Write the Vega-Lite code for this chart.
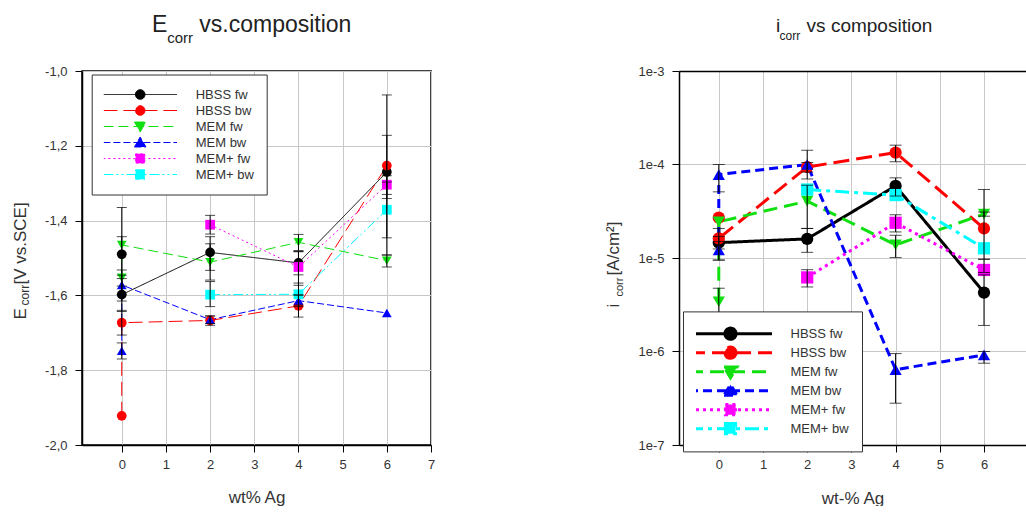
{
  "$schema": "https://vega.github.io/schema/vega-lite/v6.json",
  "background": "white",
  "padding": {"left": 10, "top": 13, "right": 0, "bottom": 0},
  "spacing": 248,
  "bounds": "flush",
  "config": {
    "font": "Liberation Sans",
    "view": {"stroke": "#000", "strokeWidth": 1.5},
    "axis": {"domainColor": "#000", "domainWidth": 1.5, "tickColor": "#000", "tickSize": 7, "tickWidth": 1, "gridColor": "#c8c8c8", "gridWidth": 1, "labelColor": "#333", "labelFontSize": 13, "labelPadding": 8, "titleColor": "#333", "titleFontWeight": "normal", "labelFlush": false, "labelOverlap": false},
    "title": {"fontWeight": "normal", "color": "#222", "frame": "group", "anchor": "start"},
    "legend": {"labelColor": "#333", "labelFontSize": 13, "strokeColor": "#333", "fillColor": "#fff"}
  },
  "datasets": {
    "E": [
      {"s": "HBSS fw", "x": 0, "y": -1.49, "lo": -1.615, "hi": -1.365, "o": 1},
      {"s": "HBSS fw", "x": 0, "y": -1.598, "lo": -1.643, "hi": -1.555, "o": 2},
      {"s": "HBSS fw", "x": 2, "y": -1.485, "lo": -1.533, "hi": -1.443, "o": 3},
      {"s": "HBSS fw", "x": 4, "y": -1.513, "lo": -1.545, "hi": -1.483, "o": 4},
      {"s": "HBSS fw", "x": 6, "y": -1.27, "lo": -1.492, "hi": -1.064, "o": 5},
      {"s": "HBSS bw", "x": 0, "y": -1.922, "lo": null, "hi": null, "o": 1},
      {"s": "HBSS bw", "x": 0, "y": -1.673, "lo": -1.706, "hi": -1.64, "o": 2},
      {"s": "HBSS bw", "x": 2, "y": -1.667, "lo": -1.68, "hi": -1.655, "o": 3},
      {"s": "HBSS bw", "x": 4, "y": -1.628, "lo": -1.658, "hi": -1.598, "o": 4},
      {"s": "HBSS bw", "x": 6, "y": -1.253, "lo": -1.341, "hi": -1.172, "o": 5},
      {"s": "MEM fw", "x": 0, "y": -1.553, "lo": -1.575, "hi": -1.532, "o": 1},
      {"s": "MEM fw", "x": 0, "y": -1.465, "lo": -1.487, "hi": -1.443, "o": 2},
      {"s": "MEM fw", "x": 2, "y": -1.511, "lo": -1.559, "hi": -1.462, "o": 3},
      {"s": "MEM fw", "x": 4, "y": -1.458, "lo": -1.48, "hi": -1.437, "o": 4},
      {"s": "MEM fw", "x": 6, "y": -1.507, "lo": -1.524, "hi": -1.492, "o": 5},
      {"s": "MEM bw", "x": 0, "y": -1.748, "lo": -1.77, "hi": -1.727, "o": 1},
      {"s": "MEM bw", "x": 0, "y": -1.572, "lo": -1.598, "hi": -1.546, "o": 2},
      {"s": "MEM bw", "x": 2, "y": -1.665, "lo": -1.675, "hi": -1.655, "o": 3},
      {"s": "MEM bw", "x": 4, "y": -1.614, "lo": -1.63, "hi": -1.6, "o": 4},
      {"s": "MEM bw", "x": 6, "y": -1.647, "lo": null, "hi": null, "o": 5},
      {"s": "MEM+ fw", "x": 2, "y": -1.411, "lo": -1.436, "hi": -1.386, "o": 3},
      {"s": "MEM+ fw", "x": 4, "y": -1.524, "lo": -1.573, "hi": -1.483, "o": 4},
      {"s": "MEM+ fw", "x": 6, "y": -1.304, "lo": -1.33, "hi": -1.28, "o": 5},
      {"s": "MEM+ bw", "x": 2, "y": -1.598, "lo": -1.63, "hi": -1.563, "o": 3},
      {"s": "MEM+ bw", "x": 4, "y": -1.597, "lo": -1.626, "hi": -1.567, "o": 4},
      {"s": "MEM+ bw", "x": 6, "y": -1.371, "lo": -1.446, "hi": -1.297, "o": 5}
    ],
    "I": [
      {"s": "HBSS fw", "x": 0, "y": 1.46e-5, "lo": 1.25e-5, "hi": 1.7e-5, "o": 1},
      {"s": "HBSS fw", "x": 2, "y": 1.6e-5, "lo": 1.15e-5, "hi": 2.07e-5, "o": 3},
      {"s": "HBSS fw", "x": 4, "y": 5.9e-5, "lo": 4.6e-5, "hi": 7.2e-5, "o": 4},
      {"s": "HBSS fw", "x": 6, "y": 4.27e-6, "lo": 1.9e-6, "hi": 6.6e-6, "o": 5},
      {"s": "HBSS bw", "x": 0, "y": 2.7e-5, "lo": null, "hi": null, "o": 1},
      {"s": "HBSS bw", "x": 0, "y": 1.62e-5, "lo": 9.5e-6, "hi": 2.07e-5, "o": 2},
      {"s": "HBSS bw", "x": 2, "y": 9.4e-5, "lo": 8.3e-5, "hi": 1.05e-4, "o": 3},
      {"s": "HBSS bw", "x": 4, "y": 1.34e-4, "lo": 1.07e-4, "hi": 1.61e-4, "o": 4},
      {"s": "HBSS bw", "x": 6, "y": 2.07e-5, "lo": 9.7e-6, "hi": 5.4e-5, "o": 5},
      {"s": "MEM fw", "x": 0, "y": 3.4e-6, "lo": 2.3e-6, "hi": 4.75e-6, "o": 1},
      {"s": "MEM fw", "x": 0, "y": 2.44e-5, "lo": null, "hi": null, "o": 2},
      {"s": "MEM fw", "x": 2, "y": 4.06e-5, "lo": 2.07e-5, "hi": 6.0e-5, "o": 3},
      {"s": "MEM fw", "x": 4, "y": 1.38e-5, "lo": 1.01e-5, "hi": 1.75e-5, "o": 4},
      {"s": "MEM fw", "x": 6, "y": 2.95e-5, "lo": 2.8e-5, "hi": 3.1e-5, "o": 5},
      {"s": "MEM bw", "x": 0, "y": 1.22e-5, "lo": 9.5e-6, "hi": 1.5e-5, "o": 1},
      {"s": "MEM bw", "x": 0, "y": 7.8e-5, "lo": 5.1e-5, "hi": 1.0e-4, "o": 2},
      {"s": "MEM bw", "x": 2, "y": 1.0e-4, "lo": 7.0e-5, "hi": 1.42e-4, "o": 3},
      {"s": "MEM bw", "x": 4, "y": 6.4e-7, "lo": 2.8e-7, "hi": 9.5e-7, "o": 4},
      {"s": "MEM bw", "x": 6, "y": 9.2e-7, "lo": 7.5e-7, "hi": 1.0e-6, "o": 5},
      {"s": "MEM+ fw", "x": 2, "y": 6.2e-6, "lo": 4.9e-6, "hi": 7.5e-6, "o": 3},
      {"s": "MEM+ fw", "x": 4, "y": 2.38e-5, "lo": 1.9e-5, "hi": 2.9e-5, "o": 4},
      {"s": "MEM+ fw", "x": 6, "y": 7.45e-6, "lo": 7.0e-6, "hi": 9.7e-6, "o": 5},
      {"s": "MEM+ bw", "x": 2, "y": 5.4e-5, "lo": null, "hi": null, "o": 3},
      {"s": "MEM+ bw", "x": 4, "y": 4.71e-5, "lo": null, "hi": null, "o": 4},
      {"s": "MEM+ bw", "x": 6, "y": 1.27e-5, "lo": null, "hi": null, "o": 5}
    ]
  },
  "hconcat": [
    {
      "width": 349,
      "height": 374,
      "data": {"name": "E"},
      "title": {"text": "E\u00a0\u00a0\u00a0\u00a0\u00a0vs.composition", "fontSize": 23, "dx": 70, "offset": -6.4},
      "resolve": {"scale": {"shape": "independent", "fill": "independent", "stroke": "independent", "strokeDash": "independent"}, "axis": {"y": "independent", "x": "independent"}},
      "layer": [
        {
          "mark": {"type": "line", "strokeWidth": 1},
          "encoding": {
            "x": {"field": "x", "type": "quantitative", "scale": {"domain": [-0.9, 7], "nice": false, "zero": false}, "axis": {"values": [0, 1, 2, 3, 4, 5, 6, 7], "grid": true, "title": "wt% Ag", "titleFontSize": 17, "titleY": 57, "titleBaseline": "alphabetic", "labelPadding": 6}},
            "y": {"field": "y", "type": "quantitative", "scale": {"domain": [-2, -1], "nice": false, "zero": false}, "axis": {"values": [-2, -1.8, -1.6, -1.4, -1.2, -1], "grid": true, "labelExpr": "'-' + replace(format(abs(datum.value), '.1f'), '.', ',')", "title": "E\u00a0\u00a0\u00a0\u00a0\u00a0[V vs.SCE]", "titleFontSize": 17, "titleAngle": 270, "titleAlign": "left", "titleBaseline": "alphabetic", "titleX": -57, "titleY": 248}},
            "color": {"field": "s", "type": "nominal", "scale": {"domain": ["HBSS fw", "HBSS bw", "MEM fw", "MEM bw", "MEM+ fw", "MEM+ bw"], "range": ["#000000", "#ff0000", "#10e010", "#0000ff", "#ff00ff", "#00ffff"]}, "legend": null},
            "strokeDash": {"field": "s", "type": "nominal", "scale": {"domain": ["HBSS fw", "HBSS bw", "MEM fw", "MEM bw", "MEM+ fw", "MEM+ bw"], "range": [[1, 0], [14, 6], [10, 5], [7, 3], [2, 3], [10, 3, 2, 3, 2, 3]]}, "legend": null},
            "order": {"field": "o", "type": "quantitative"}
          }
        },
        {
          "mark": {"type": "point", "filled": true, "size": 95, "opacity": 1},
          "encoding": {
            "x": {"field": "x", "type": "quantitative", "axis": null},
            "y": {"field": "y", "type": "quantitative", "axis": null},
            "color": {"field": "s", "type": "nominal", "scale": {"domain": ["HBSS fw", "HBSS bw", "MEM fw", "MEM bw", "MEM+ fw", "MEM+ bw"], "range": ["#000000", "#ff0000", "#10e010", "#0000ff", "#ff00ff", "#00ffff"]}, "legend": null},
            "shape": {"field": "s", "type": "nominal", "scale": {"domain": ["HBSS fw", "HBSS bw", "MEM fw", "MEM bw", "MEM+ fw", "MEM+ bw"], "range": ["circle", "circle", "triangle-down", "triangle-up", "square", "square"]}, "legend": null}
          }
        },
        {
          "transform": [{"filter": "datum.lo != null"}],
          "mark": {"type": "rule", "color": "#000", "strokeWidth": 1},
          "encoding": {
            "x": {"field": "x", "type": "quantitative", "axis": null},
            "y": {"field": "lo", "type": "quantitative", "axis": null},
            "y2": {"field": "hi"}
          }
        },
        {
          "transform": [{"filter": "datum.lo != null"}],
          "mark": {"type": "tick", "orient": "horizontal", "color": "#000", "size": 10, "thickness": 1},
          "encoding": {
            "x": {"field": "x", "type": "quantitative", "axis": null},
            "y": {"field": "lo", "type": "quantitative", "axis": null}
          }
        },
        {
          "transform": [{"filter": "datum.lo != null"}],
          "mark": {"type": "tick", "orient": "horizontal", "color": "#000", "size": 10, "thickness": 1},
          "encoding": {
            "x": {"field": "x", "type": "quantitative", "axis": null},
            "y": {"field": "hi", "type": "quantitative", "axis": null}
          }
        },
        {
          "transform": [{"filter": "false"}],
          "mark": {"type": "point", "filled": true, "opacity": 1},
          "encoding": {
            "x": {"field": "x", "type": "quantitative", "axis": {"orient": "top", "labels": false, "ticks": false, "grid": false, "domain": false, "title": "corr", "titleFontSize": 15, "titleColor": "#222", "titleX": 84.7, "titleY": -28.3, "titleAlign": "left", "titleBaseline": "alphabetic", "titleAnchor": "start"}},
            "y": {"field": "y", "type": "quantitative", "axis": {"orient": "left", "title": "corr", "titleFontSize": 12, "labels": false, "ticks": false, "domain": false, "grid": false, "titleAngle": 270, "titleAlign": "left", "titleBaseline": "alphabetic", "titleX": -54, "titleY": 234}},
            "shape": {"field": "s", "type": "nominal", "scale": {"domain": ["HBSS fw", "HBSS bw", "MEM fw", "MEM bw", "MEM+ fw", "MEM+ bw"], "range": [
              "M-4.6,0H4.6M0.6,0A0.6,0.6,0,1,1,-0.6,0A0.6,0.6,0,1,1,0.6,0Z",
              "M-4.6,0H4.6M0.6,0A0.6,0.6,0,1,1,-0.6,0A0.6,0.6,0,1,1,0.6,0Z",
              "M-4.6,0H4.6M-0.72,-0.56L0.72,-0.56L0,0.68Z",
              "M-4.6,0H4.6M-0.72,0.56L0.72,0.56L0,-0.68Z",
              "M-4.6,0H4.6M-0.58,-0.58H0.58V0.58H-0.58Z",
              "M-4.6,0H4.6M-0.58,-0.58H0.58V0.58H-0.58Z"]},
              "legend": {"title": null, "orient": "none", "legendX": 9.7, "legendY": 3.5, "symbolSize": 256, "symbolStrokeWidth": 1, "symbolOffset": 28, "labelOffset": 47, "clipHeight": 16, "padding": 12, "rowPadding": 0, "strokeColor": "#333", "fillColor": "#fff", "symbolOpacity": 1}},
            "fill": {"field": "s", "type": "nominal", "scale": {"domain": ["HBSS fw", "HBSS bw", "MEM fw", "MEM bw", "MEM+ fw", "MEM+ bw"], "range": ["#000000", "#ff0000", "#10e010", "#0000ff", "#ff00ff", "#00ffff"]}},
            "stroke": {"field": "s", "type": "nominal", "scale": {"domain": ["HBSS fw", "HBSS bw", "MEM fw", "MEM bw", "MEM+ fw", "MEM+ bw"], "range": ["#000000", "#ff0000", "#10e010", "#0000ff", "#ff00ff", "#00ffff"]}},
            "strokeDash": {"field": "s", "type": "nominal", "scale": {"domain": ["HBSS fw", "HBSS bw", "MEM fw", "MEM bw", "MEM+ fw", "MEM+ bw"], "range": [[1, 0], [14, 6], [10, 5], [7, 3], [2, 3], [10, 3, 2, 3, 2, 3]]}}
          }
        }
      ]
    },
    {
      "width": 347,
      "height": 374,
      "view": {"stroke": null},
      "data": {"name": "I"},
      "title": {"text": "i\u00a0\u00a0\u00a0\u00a0\u00a0vs composition", "fontSize": 19, "dx": 97, "offset": -6.5},
      "resolve": {"scale": {"shape": "independent", "fill": "independent", "stroke": "independent", "strokeDash": "independent"}, "axis": {"y": "independent", "x": "independent"}},
      "layer": [
        {
          "mark": {"type": "line", "strokeWidth": 3},
          "encoding": {
            "x": {"field": "x", "type": "quantitative", "scale": {"domain": [-0.9, 6.95], "nice": false, "zero": false}, "axis": {"values": [0, 1, 2, 3, 4, 5, 6], "grid": true, "title": "wt-% Ag", "titleFontSize": 17, "titleY": 58, "titleBaseline": "alphabetic", "labelPadding": 6}},
            "y": {"field": "y", "type": "quantitative", "scale": {"type": "log", "domain": [1e-7, 1e-3], "nice": false}, "axis": {"values": [1e-7, 1e-6, 1e-5, 1e-4, 1e-3], "grid": true, "labelExpr": "'1e' + round(log(datum.value) / LN10)", "title": "i\u00a0\u00a0\u00a0\u00a0\u00a0\u00a0[A/cm\u00b2]", "titleFontSize": 17, "titleAngle": 270, "titleAlign": "left", "titleBaseline": "alphabetic", "titleX": -61, "titleY": 236}},
            "color": {"field": "s", "type": "nominal", "scale": {"domain": ["HBSS fw", "HBSS bw", "MEM fw", "MEM bw", "MEM+ fw", "MEM+ bw"], "range": ["#000000", "#ff0000", "#10e010", "#0000ff", "#ff00ff", "#00ffff"]}, "legend": null},
            "strokeDash": {"field": "s", "type": "nominal", "scale": {"domain": ["HBSS fw", "HBSS bw", "MEM fw", "MEM bw", "MEM+ fw", "MEM+ bw"], "range": [[1, 0], [16, 7], [14, 7], [9, 5], [3, 4], [14, 5, 4, 5]]}, "legend": null},
            "order": {"field": "o", "type": "quantitative"}
          }
        },
        {
          "mark": {"type": "point", "filled": true, "size": 150, "opacity": 1},
          "encoding": {
            "x": {"field": "x", "type": "quantitative", "axis": null},
            "y": {"field": "y", "type": "quantitative", "axis": null},
            "color": {"field": "s", "type": "nominal", "scale": {"domain": ["HBSS fw", "HBSS bw", "MEM fw", "MEM bw", "MEM+ fw", "MEM+ bw"], "range": ["#000000", "#ff0000", "#10e010", "#0000ff", "#ff00ff", "#00ffff"]}, "legend": null},
            "shape": {"field": "s", "type": "nominal", "scale": {"domain": ["HBSS fw", "HBSS bw", "MEM fw", "MEM bw", "MEM+ fw", "MEM+ bw"], "range": ["circle", "circle", "triangle-down", "triangle-up", "square", "square"]}, "legend": null}
          }
        },
        {
          "transform": [{"filter": "datum.lo != null"}],
          "mark": {"type": "rule", "color": "#000", "strokeWidth": 1},
          "encoding": {
            "x": {"field": "x", "type": "quantitative", "axis": null},
            "y": {"field": "lo", "type": "quantitative", "axis": null},
            "y2": {"field": "hi"}
          }
        },
        {
          "transform": [{"filter": "datum.lo != null"}],
          "mark": {"type": "tick", "orient": "horizontal", "color": "#000", "size": 12, "thickness": 1},
          "encoding": {
            "x": {"field": "x", "type": "quantitative", "axis": null},
            "y": {"field": "lo", "type": "quantitative", "axis": null}
          }
        },
        {
          "transform": [{"filter": "datum.lo != null"}],
          "mark": {"type": "tick", "orient": "horizontal", "color": "#000", "size": 12, "thickness": 1},
          "encoding": {
            "x": {"field": "x", "type": "quantitative", "axis": null},
            "y": {"field": "hi", "type": "quantitative", "axis": null}
          }
        },
        {
          "transform": [{"filter": "false"}],
          "mark": {"type": "point", "filled": true, "opacity": 1},
          "encoding": {
            "x": {"field": "x", "type": "quantitative", "axis": {"orient": "top", "labels": false, "ticks": false, "grid": false, "domain": true, "title": "corr", "titleFontSize": 12, "titleColor": "#222", "titleX": 100, "titleY": -31.3, "titleAlign": "left", "titleBaseline": "alphabetic", "titleAnchor": "start"}},
            "y": {"field": "y", "type": "quantitative", "axis": {"orient": "left", "title": "corr", "titleFontSize": 11, "labels": false, "ticks": false, "domain": false, "grid": false, "titleAngle": 270, "titleAlign": "left", "titleBaseline": "alphabetic", "titleX": -57, "titleY": 225}},
            "shape": {"field": "s", "type": "nominal", "scale": {"domain": ["HBSS fw", "HBSS bw", "MEM fw", "MEM bw", "MEM+ fw", "MEM+ bw"], "range": [
              "M-4.46,0H4.46M0.6,0A0.6,0.6,0,1,1,-0.6,0A0.6,0.6,0,1,1,0.6,0Z",
              "M-4.46,0H4.46M0.6,0A0.6,0.6,0,1,1,-0.6,0A0.6,0.6,0,1,1,0.6,0Z",
              "M-4.46,0H4.46M-0.7,-0.5L0.7,-0.5L0,0.65Z",
              "M-4.46,0H4.46M-0.7,0.5L0.7,0.5L0,-0.65Z",
              "M-4.46,0H4.46M-0.55,-0.55H0.55V0.55H-0.55Z",
              "M-4.46,0H4.46M-0.55,-0.55H0.55V0.55H-0.55Z"]},
              "legend": {"title": null, "orient": "none", "legendX": 4, "legendY": 240.4, "symbolSize": 346, "symbolStrokeWidth": 3, "symbolOffset": 23.5, "labelOffset": 49, "clipHeight": 18.6, "padding": 13, "rowPadding": 0, "strokeColor": "#333", "fillColor": "#fff", "symbolOpacity": 1}},
            "fill": {"field": "s", "type": "nominal", "scale": {"domain": ["HBSS fw", "HBSS bw", "MEM fw", "MEM bw", "MEM+ fw", "MEM+ bw"], "range": ["#000000", "#ff0000", "#10e010", "#0000ff", "#ff00ff", "#00ffff"]}},
            "stroke": {"field": "s", "type": "nominal", "scale": {"domain": ["HBSS fw", "HBSS bw", "MEM fw", "MEM bw", "MEM+ fw", "MEM+ bw"], "range": ["#000000", "#ff0000", "#10e010", "#0000ff", "#ff00ff", "#00ffff"]}},
            "strokeDash": {"field": "s", "type": "nominal", "scale": {"domain": ["HBSS fw", "HBSS bw", "MEM fw", "MEM bw", "MEM+ fw", "MEM+ bw"], "range": [[1, 0], [16, 7], [14, 7], [9, 5], [3, 4], [14, 5, 4, 5]]}}
          }
        }
      ]
    }
  ]
}
